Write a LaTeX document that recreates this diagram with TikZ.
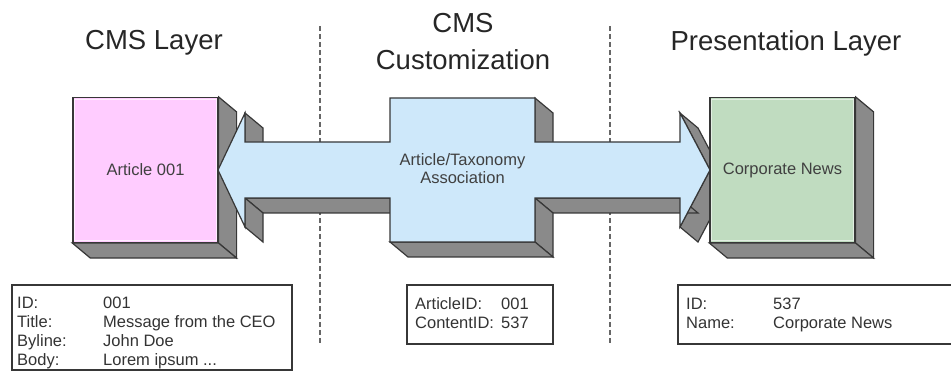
\documentclass[tikz,border=0pt]{standalone}
\usepackage{fontspec}
\setmainfont{Liberation Sans}
\usetikzlibrary{positioning}
\definecolor{edgegray}{RGB}{55,55,55}
\definecolor{sidegray}{RGB}{138,138,138}
\definecolor{pinkface}{RGB}{255,204,255}
\definecolor{blueface}{RGB}{206,232,250}
\definecolor{greenface}{RGB}{192,220,192}
\definecolor{textgray}{RGB}{64,64,64}
\tikzset{
	x=1pt, y=-1pt, % one unit is one pixel, y runs downwards
	line join=round, % keeps the corners of the faces clean
	outline/.style={draw=edgegray, line width=1.2pt}, % dark edge of every face
}

\begin{document}
\begin{tikzpicture}[
	heading/.style={font=\fontsize{27.5}{37}\selectfont, text=black!85, align=center},
	cubeface/.style={rectangle, outline, minimum width=145, minimum height=145, inner sep=0pt, text=textgray, font=\fontsize{16.5}{18}\selectfont, align=center},
	sideface/.style={outline, fill=sidegray},
	infobox/.style={draw=edgegray, line width=1.5pt},
	infotext/.style={anchor=north west, inner sep=0pt, text=black!80, font=\fontsize{16.5}{19}\selectfont},
	divider/.style={draw=gray!80!black, line width=1.8pt, dash pattern=on 5pt off 3pt},
	]
	\clip (0,0) rectangle (951,371);
	%Headings
	\node[heading] (cmslayer) at (154,43) {CMS Layer};
	\node[heading] (custom) at (463,41.5) {CMS\\Customization};
	\node[heading] (presentation) at (786,43) {Presentation Layer};

	%Dividers
	\draw[divider] (320,26) -- (320,344);
	\draw[divider] (610,26) -- (610,344);

	%Article box
	\node[cubeface, fill=pinkface] (article) at (145.5,170) {Article 001};
	\draw[white!65!pinkface, line width=1pt] ([shift={(2.5,2.5)}]article.north west) rectangle ([shift={(-2.5,-2.5)}]article.south east);
	\filldraw[sideface] (article.north east) -- ++(18,15) -- ([shift={(18,15)}]article.south east) -- (article.south east) -- cycle;
	\filldraw[sideface] (article.south west) -- ++(18,15) -- ([shift={(18,15)}]article.south east) -- (article.south east) -- cycle;

	%Arrow
	\foreach \n/\px/\py in {1/218/170, 2/245/113, 3/245/142, 4/390/142, 5/390/98, 6/535/98,
		7/535/142, 8/680/142, 9/680/113, 10/710/170, 11/680/227, 12/680/198,
		13/535/198, 14/535/242, 15/390/242, 16/390/198, 17/245/198, 18/245/227}
		\coordinate (a\n) at (\px,\py);
	\foreach \i in {2,6,9,10,12,13,14,16,17} {
		\pgfmathtruncatemacro{\j}{\i+1}
		\filldraw[sideface] (a\i) -- (a\j) -- ([shift={(18,15)}]a\j) -- ([shift={(18,15)}]a\i) -- cycle;
	}
	\filldraw[outline, fill=blueface, line join=miter] (a1) \foreach \n in {2,...,18} {-- (a\n)} -- cycle;
	\node[cubeface, draw=none] (assoc) at (462.5,169) {Article/Taxonomy\\Association};

	%News box
	\node[cubeface, fill=greenface] (news) at (782.5,170) {Corporate News};
	\draw[white!55!greenface, line width=1pt] ([shift={(2.5,2.5)}]news.north west) rectangle ([shift={(-2.5,-2.5)}]news.south east);
	\filldraw[sideface] (news.north east) -- ++(18,15) -- ([shift={(18,15)}]news.south east) -- (news.south east) -- cycle;
	\filldraw[sideface] (news.south west) -- ++(18,15) -- ([shift={(18,15)}]news.south east) -- (news.south east) -- cycle;

	%Info boxes
	\draw[infobox] (12,285) rectangle (292,370);
	\node[infotext] (articleinfo) at (17,294.7) {\begin{tabular}{@{}p{86pt}@{}l@{}}
		ID: & 001\\ Title: & Message from the CEO\\ Byline: & John Doe\\ Body: & Lorem ipsum ...
		\end{tabular}};
	\draw[infobox] (407,285) rectangle (553,344);
	\node[infotext] (associnfo) at (415,295.7) {\begin{tabular}{@{}p{86pt}@{}l@{}}
		ArticleID: & 001\\ ContentID: & 537
		\end{tabular}};
	\draw[infobox] (678,285) rectangle (960,344);
	\node[infotext] (newsinfo) at (686,295.7) {\begin{tabular}{@{}p{87pt}@{}l@{}}
		ID: & 537\\ Name: & Corporate News
		\end{tabular}};
\end{tikzpicture}
\end{document}
